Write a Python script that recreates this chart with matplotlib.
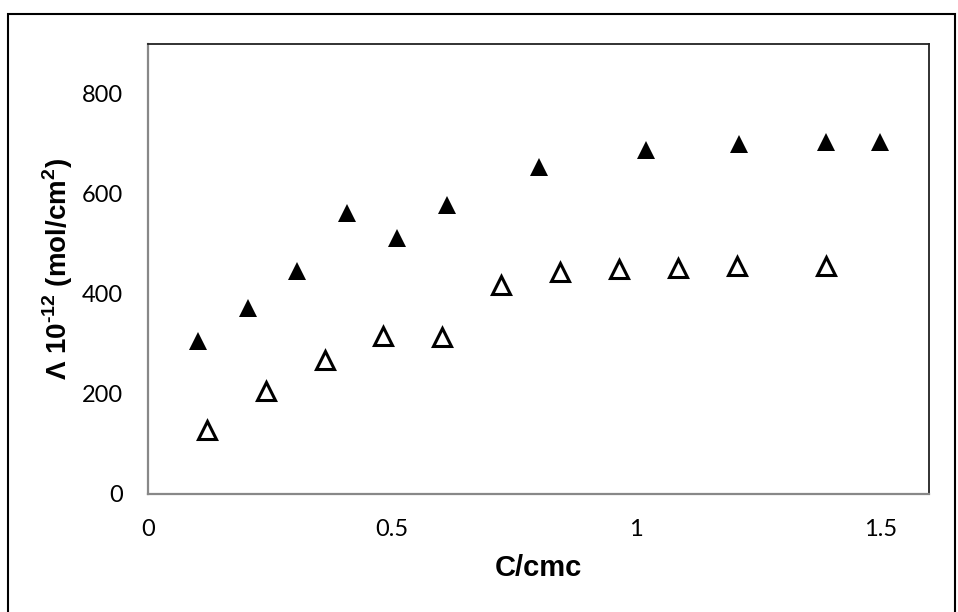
import matplotlib
matplotlib.use('Agg')
import matplotlib.pyplot as plt
from matplotlib.patches import Rectangle

# surface excess vs. reduced concentration, two systems
x_filled = [0.102, 0.204, 0.306, 0.408, 0.511, 0.612, 0.800, 1.021, 1.210, 1.390, 1.500]
y_filled = [306, 372, 447, 563, 513, 578, 654, 689, 700, 705, 705]

x_open = [0.121, 0.242, 0.363, 0.482, 0.602, 0.723, 0.845, 0.965, 1.085, 1.206, 1.388]
y_open = [129, 206, 268, 316, 315, 418, 444, 450, 452, 457, 457]

xticks = [0, 0.5, 1, 1.5]
xtick_labels = ['0', '0.5', '1', '1.5']
yticks = [0, 200, 400, 600, 800]

plt.rcParams['mathtext.fontset'] = 'custom'
plt.rcParams['mathtext.rm'] = 'Liberation Sans'
plt.rcParams['mathtext.bf'] = 'Liberation Sans:bold'

fig = plt.figure(figsize=(9.58, 6.12), dpi=100)
ax = fig.add_axes([148/958, 1 - 494/612, (929 - 148)/958, (494 - 44)/612])

ax.plot(x_filled, y_filled, linestyle='none', marker='^', markersize=13,
        color='black', markeredgewidth=0, clip_on=False)
ax.plot(x_open, y_open, linestyle='none', marker='^', markersize=13,
        markerfacecolor='white', markeredgecolor='black', markeredgewidth=2.2,
        clip_on=False)

ax.set_xlim(0, 1.6)
ax.set_ylim(0, 900)
ax.set_xticks(xticks)
ax.set_xticklabels(xtick_labels)
ax.set_yticks(yticks)
ax.tick_params(length=0, labelsize=17, pad=18)
for lab in ax.get_xticklabels() + ax.get_yticklabels():
    lab.set_family('Lato')

ax.spines['left'].set_color('#888888')
ax.spines['bottom'].set_color('#888888')
ax.spines['left'].set_linewidth(1.6)
ax.spines['bottom'].set_linewidth(1.6)
ax.spines['top'].set_color('#222222')
ax.spines['right'].set_color('#222222')
ax.spines['top'].set_linewidth(1.3)
ax.spines['right'].set_linewidth(1.3)

label_font = ['Liberation Sans', 'DejaVu Sans']
ax.set_xlabel('C/cmc', fontsize=21, fontweight='bold', family=label_font,
              labelpad=10)
ax.set_ylabel('Λ 10$^{\\mathbf{\u201012}}$ (mol/cm$^{\\mathbf{2}}$)', fontsize=20,
              fontweight='bold', family=label_font, labelpad=5)

# chart-area border
fig.patches.append(Rectangle((8/958, -0.05), (955 - 8)/958, 1.05 - 14/612,
                             transform=fig.transFigure, fill=False,
                             edgecolor='black', linewidth=1.5))

fig.savefig('out.png', dpi=100)
